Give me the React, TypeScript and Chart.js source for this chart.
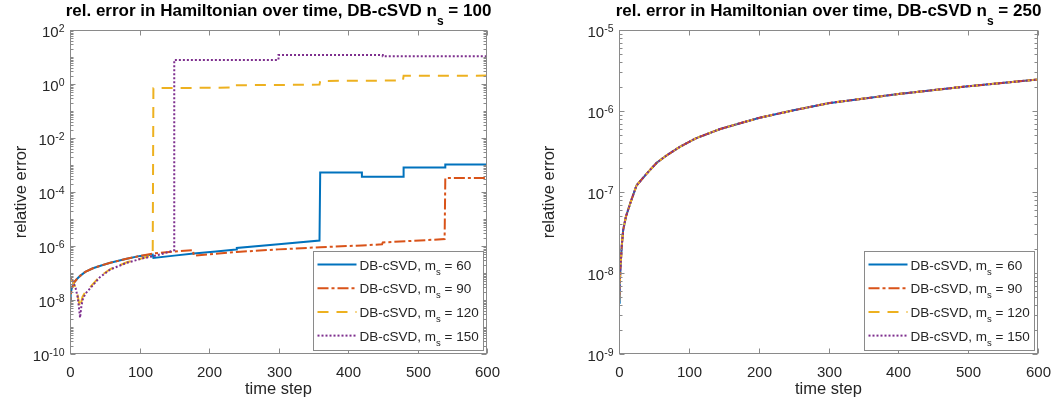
import React, { useEffect, useRef } from "react";
import { Chart, registerables } from "chart.js";

Chart.register(...registerables);

const W = 1053;
const H = 403;

// ---------- Left panel: DB-cSVD n_s = 100 ----------
const stepL60 = [0, 1, 3, 6, 10, 15, 22, 33, 45, 58, 80, 101, 119, 120, 150, 178, 210, 239, 240, 300, 359, 360, 420, 420, 480, 480, 540, 540, 600];
const errL60 = [1e-8, 1.8e-8, 3e-8, 4.5e-8, 6e-8, 8e-8, 1.1e-7, 1.5e-7, 1.9e-7, 2.4e-7, 3.3e-7, 4.3e-7, 4.8e-7, 3.6e-7, 4.4e-7, 5.3e-7, 6.3e-7, 7.4e-7, 8.5e-7, 1.15e-6, 1.6e-6, 5.3e-4, 5.3e-4, 3.7e-4, 3.7e-4, 8e-4, 8e-4, 1.05e-3, 1.05e-3];

const stepL90 = [0, 1, 3, 6, 10, 15, 22, 33, 45, 58, 80, 101, 120, 150, 177, 178, 210, 240, 300, 360, 420, 449, 450, 539, 540, 600];
const errL90 = [5e-9, 1.5e-8, 2.8e-8, 4.5e-8, 6e-8, 8e-8, 1.1e-7, 1.5e-7, 1.9e-7, 2.4e-7, 3.3e-7, 4.3e-7, 5.3e-7, 6.2e-7, 7e-7, 4.4e-7, 5.2e-7, 6e-7, 7.5e-7, 9e-7, 1.05e-6, 1.15e-6, 1.35e-6, 1.8e-6, 3.3e-4, 3.3e-4];

const stepL120 = [0, 4, 8, 11, 13, 14.5, 16, 18, 22, 29, 43, 58, 82, 105, 119, 120, 180, 234, 235, 300, 359, 360, 420, 479, 480, 540, 600];
const errL120 = [7e-8, 5e-8, 2.8e-8, 1.5e-8, 8e-9, 5e-9, 8e-9, 1.3e-8, 2e-8, 3e-8, 7.5e-8, 1.4e-7, 2.5e-7, 3.6e-7, 4.6e-7, 0.7, 0.72, 0.74, 0.9, 0.92, 0.95, 1.3, 1.32, 1.35, 2.0, 2.02, 2.05];

const stepL150 = [0, 4, 8, 11, 13, 14.5, 16, 18, 22, 29, 43, 58, 82, 105, 120, 135, 150, 150, 300, 300, 450, 450, 600];
const errL150 = [7e-8, 5e-8, 2.8e-8, 1.3e-8, 5e-9, 2.2e-9, 5e-9, 1e-8, 1.7e-8, 2.7e-8, 7e-8, 1.35e-7, 2.4e-7, 3.5e-7, 4.2e-7, 5.3e-7, 7e-7, 7.8, 7.8, 11.8, 11.8, 10.6, 10.6];

// ---------- Right panel: DB-cSVD n_s = 250 (all four curves coincide) ----------
const stepR = [0, 1, 2, 4, 6, 10, 16, 25, 40, 54, 70, 87, 110, 145, 200, 250, 300, 400, 500, 600];
const errR60 = [4.3e-9, 7e-9, 1.1e-8, 2.2e-8, 3.4e-8, 5e-8, 7.2e-8, 1.2e-7, 1.7e-7, 2.3e-7, 2.9e-7, 3.6e-7, 4.6e-7, 6e-7, 8.2e-7, 1.02e-6, 1.25e-6, 1.62e-6, 2.02e-6, 2.45e-6];
const errR90 = errR60;
const errR120 = errR60;
const errR150 = errR60;

// ---------- Labels / ticks ----------
const xTickValues = [0, 100, 200, 300, 400, 500, 600];
const msValues = ["60", "90", "120", "150"];
const titleMain = "rel. error in Hamiltonian over time, DB-cSVD n";
const titleSub = "s";
const leftNs = "100";
const rightNs = "250";
const xLabel = "time step";
const yLabel = "relative error";
const legendMain = "DB-cSVD, m";
const legendSub = "s";

// ---------- Styles ----------
const COLORS = ["#0072BD", "#D95319", "#EDB120", "#7E2F8E"];
const DASHES: number[][] = [[], [11, 3, 3, 3], [11, 8], [2, 2]];
const FONT = '"Liberation Sans", Arial, Helvetica, sans-serif';
const AX = "#8a8a8a";
const TXT = "#262626";

type Part = { t: string; font: string; dy?: number };

function partsWidth(ctx: CanvasRenderingContext2D, parts: Part[]) {
  let w = 0;
  for (const p of parts) {
    ctx.font = p.font;
    w += ctx.measureText(p.t).width;
  }
  return w;
}

function drawParts(ctx: CanvasRenderingContext2D, parts: Part[], x: number, y: number, align: "left" | "center" | "right") {
  const w = partsWidth(ctx, parts);
  let cx = align === "left" ? x : align === "center" ? x - w / 2 : x - w;
  ctx.textAlign = "left";
  ctx.textBaseline = "alphabetic";
  for (const p of parts) {
    ctx.font = p.font;
    ctx.fillText(p.t, cx, y + (p.dy || 0));
    cx += ctx.measureText(p.t).width;
  }
}

type PanelCfg = {
  ns: string;
  yMinExp: number;
  yMaxExp: number;
  yLabelStep: number;
  yLabelX: number;
};

function makePlugin(cfg: PanelCfg) {
  return {
    id: "matlabAxes",
    afterDatasetsDraw(chart: any) {
      const ctx: CanvasRenderingContext2D = chart.ctx;
      const { left, right, top, bottom } = chart.chartArea;
      const xs = chart.scales.x;
      const ys = chart.scales.y;
      ctx.save();
      ctx.setLineDash([]);
      ctx.strokeStyle = AX;
      ctx.lineWidth = 1;
      const L = Math.round(left) + 0.5;
      const R = Math.round(right) - 0.5;
      const T = Math.round(top) + 0.5;
      const B = Math.round(bottom) - 0.5;
      ctx.strokeRect(L, T, R - L, B - T);

      const seg = (x1: number, y1: number, x2: number, y2: number) => {
        ctx.beginPath();
        ctx.moveTo(x1, y1);
        ctx.lineTo(x2, y2);
        ctx.stroke();
      };

      // x ticks
      ctx.fillStyle = TXT;
      for (const v of xTickValues) {
        const px = Math.round(xs.getPixelForValue(v)) + 0.5;
        seg(px, B, px, B - 5);
        seg(px, T, px, T + 5);
        ctx.font = `15px ${FONT}`;
        ctx.textAlign = "center";
        ctx.textBaseline = "alphabetic";
        ctx.fillText(String(v), px, B + 23);
      }

      // y ticks (log)
      for (let e = cfg.yMinExp; e <= cfg.yMaxExp; e++) {
        const major = (e - cfg.yMinExp) % cfg.yLabelStep === 0;
        const py = Math.round(ys.getPixelForValue(Math.pow(10, e))) + 0.5;
        const len = major ? 5 : 3;
        seg(L, py, L + len, py);
        seg(R, py, R - len, py);
        if (major) {
          drawParts(
            ctx,
            [
              { t: "10", font: `15px ${FONT}` },
              { t: String(e), font: `10.5px ${FONT}`, dy: -5 },
            ],
            L - 6,
            py + 6,
            "right"
          );
        }
        if (e < cfg.yMaxExp) {
          for (let k = 2; k <= 9; k++) {
            const pm = Math.round(ys.getPixelForValue(k * Math.pow(10, e))) + 0.5;
            seg(L, pm, L + 3, pm);
            seg(R, pm, R - 3, pm);
          }
        }
      }

      // axis labels
      ctx.fillStyle = TXT;
      ctx.font = `16.5px ${FONT}`;
      ctx.textAlign = "center";
      ctx.textBaseline = "alphabetic";
      ctx.fillText(xLabel, (L + R) / 2, B + 40);
      ctx.save();
      ctx.translate(cfg.yLabelX, (T + B) / 2);
      ctx.rotate(-Math.PI / 2);
      ctx.fillText(yLabel, 0, 0);
      ctx.restore();

      // title
      ctx.fillStyle = "#000000";
      drawParts(
        ctx,
        [
          { t: titleMain, font: `bold 17px ${FONT}` },
          { t: titleSub, font: `bold 12px ${FONT}`, dy: 9 },
          { t: " = " + cfg.ns, font: `bold 17px ${FONT}` },
        ],
        (L + R) / 2,
        16,
        "center"
      );

      // legend
      const entries: Part[][] = msValues.map((m) => [
        { t: legendMain, font: `13.5px ${FONT}` },
        { t: legendSub, font: `9.5px ${FONT}`, dy: 5 },
        { t: " = " + m, font: `13.5px ${FONT}` },
      ]);
      let maxW = 0;
      for (const en of entries) maxW = Math.max(maxW, partsWidth(ctx, en));
      const boxW = Math.round(46 + maxW + 5);
      const boxH = 99;
      const bx = Math.round(R - 4 - boxW) + 0.5;
      const by = Math.round(B - 4 - boxH) + 0.5;
      ctx.fillStyle = "#ffffff";
      ctx.fillRect(bx, by, boxW, boxH);
      ctx.strokeStyle = AX;
      ctx.lineWidth = 1;
      ctx.strokeRect(bx, by, boxW, boxH);
      const dsets = chart.data.datasets;
      for (let i = 0; i < entries.length; i++) {
        const ry = by + 13 + i * 23.7;
        ctx.save();
        ctx.strokeStyle = dsets[i].borderColor;
        ctx.lineWidth = 2;
        ctx.setLineDash(dsets[i].borderDash || []);
        seg(bx + 4, ry, bx + 43, ry);
        ctx.restore();
        ctx.fillStyle = TXT;
        drawParts(ctx, entries[i], bx + 46, ry + 5, "left");
      }
      ctx.restore();
    },
  };
}

function buildData(xsArr: number[][], ysArr: number[][]) {
  return {
    datasets: msValues.map((m, i) => ({
      label: `DB-cSVD, m_s = ${m}`,
      data: xsArr[i].map((x, j) => ({ x, y: ysArr[i][j] })),
      borderColor: COLORS[i],
      backgroundColor: COLORS[i],
      borderWidth: 2,
      borderDash: DASHES[i],
      pointRadius: 0,
      fill: false,
      tension: 0,
      order: 4 - i,
    })),
  };
}

function makeConfig(
  data: any,
  pad: { left: number; right: number; top: number; bottom: number },
  yMin: number,
  yMax: number,
  cfg: PanelCfg
): any {
  return {
    type: "line",
    data,
    options: {
      responsive: false,
      maintainAspectRatio: false,
      animation: false,
      devicePixelRatio: 1,
      layout: { padding: pad },
      scales: {
        x: { type: "linear", min: 0, max: 600, display: false },
        y: { type: "logarithmic", min: yMin, max: yMax, display: false },
      },
      plugins: {
        legend: { display: false },
        tooltip: { enabled: false },
        title: { display: false },
      },
    },
    plugins: [makePlugin(cfg)],
  };
}

export default function App() {
  const leftRef = useRef<HTMLCanvasElement | null>(null);
  const rightRef = useRef<HTMLCanvasElement | null>(null);

  useEffect(() => {
    const leftData = buildData([stepL60, stepL90, stepL120, stepL150], [errL60, errL90, errL120, errL150]);
    const rightData = buildData([stepR, stepR, stepR, stepR], [errR60, errR90, errR120, errR150]);
    const c1 = new Chart(
      leftRef.current as HTMLCanvasElement,
      makeConfig(leftData, { left: 70, right: W - 487, top: 30, bottom: H - 354 }, 1e-10, 1e2, {
        ns: leftNs,
        yMinExp: -10,
        yMaxExp: 2,
        yLabelStep: 2,
        yLabelX: 26,
      })
    );
    const c2 = new Chart(
      rightRef.current as HTMLCanvasElement,
      makeConfig(rightData, { left: 619, right: W - 1038, top: 30, bottom: H - 354 }, 1e-9, 1e-5, {
        ns: rightNs,
        yMinExp: -9,
        yMaxExp: -5,
        yLabelStep: 1,
        yLabelX: 554,
      })
    );
    return () => {
      c1.destroy();
      c2.destroy();
    };
  }, []);

  const cs: React.CSSProperties = { position: "absolute", left: 0, top: 0, width: W, height: H };
  return (
    <div style={{ position: "absolute", left: 0, top: 0, width: W, height: H, background: "#fff" }}>
      <canvas ref={leftRef} width={W} height={H} style={cs} />
      <canvas ref={rightRef} width={W} height={H} style={cs} />
    </div>
  );
}
